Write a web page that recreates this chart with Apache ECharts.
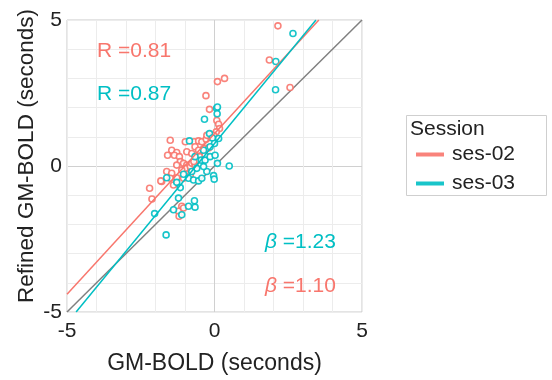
<!DOCTYPE html>
<html>
<head>
<meta charset="utf-8">
<script src="https://cdn.jsdelivr.net/npm/echarts@6/dist/echarts.min.js"></script>
<style>
  html, body { margin: 0; padding: 0; background: #fff; }
  #chart { width: 552px; height: 380px; }
</style>
</head>
<body>
<div id="chart"></div>
<script>
// session names and colours
const sessions = ['ses-02', 'ses-03'];
const sessionColors = ['#F8766D', '#00BFC4'];

// scatter points [GM-BOLD, Refined GM-BOLD] (seconds)
const ses02Points = [
  [2.15, 4.80], [1.86, 3.63], [2.56, 2.69], [0.10, 2.89], [0.34, 3.00], [-0.29, 2.41],
  [-0.17, 1.94], [0.08, 1.56], [0.14, 1.43], [0.17, 1.28], [0.06, 1.17],
  [-1.50, 0.88], [-0.99, 0.83], [-0.69, 0.83], [-0.54, 0.86], [-0.43, 0.83],
  [-0.28, 0.92], [-0.15, 1.00], [-0.03, 1.05], [-1.45, 0.54], [-1.28, 0.46],
  [-1.59, 0.37], [-1.36, 0.37], [-1.19, 0.32], [-0.94, 0.49], [-0.77, 0.43],
  [-0.66, 0.66], [-0.54, 0.54], [-0.37, 0.60], [-0.20, 0.62], [-1.16, 0.15],
  [-1.05, 0.09], [-0.94, 0.03], [-0.88, -0.08], [-0.99, -0.08], [-0.82, -0.02],
  [-0.77, 0.09], [-0.66, 0.03], [-1.11, -0.14], [-1.62, -0.19], [-1.45, -0.25],
  [-1.79, -0.53], [-1.50, -0.42], [-1.28, -0.40], [-1.39, -0.65], [-2.20, -0.76],
  [-2.12, -1.13], [-1.11, -1.38], [-1.22, -1.55], [-1.05, -1.44], [-1.20, -1.72],
  [-0.49, 0.32], [-0.32, 0.37], [-1.05, -0.42], [-0.82, -0.31], [-1.28, 0.03],
  [-1.82, -0.51], [-0.26, 1.05], [-0.60, 0.20], [-0.70, 0.15]
];
const ses03Points = [
  [2.66, 4.54], [2.08, 3.58], [2.07, 2.61], [0.07, 1.98], [0.09, 1.79], [-0.34, 1.60],
  [0.50, 0.00], [-1.64, -2.36], [-2.03, -1.63], [0.10, 2.02],
  [-0.17, 1.11], [-0.07, 0.96], [0.14, 0.94], [0.00, 0.77], [-0.85, 0.86],
  [-0.37, 0.54], [-0.15, 0.66], [-0.45, 0.20], [-0.32, 0.20], [-0.66, 0.32],
  [-0.15, 0.32], [0.02, 0.37], [0.10, 0.09], [-0.03, -0.33], [-0.01, -0.45],
  [-1.62, -0.40], [-1.28, -0.56], [-1.05, -0.28], [-0.88, -0.42], [-0.71, -0.48],
  [-0.54, -0.51], [-0.43, -0.42], [-1.16, -0.74], [-1.22, -1.10], [-1.39, -1.50],
  [-1.11, -1.67], [-0.88, -1.38], [-0.68, -1.19], [-0.66, -1.41], [-0.60, -0.08],
  [-0.26, -0.19], [-0.77, -0.19], [-0.37, -0.02]
];

// fitted lines: slope (beta) and intercept
const fitSlopes = [1.10, 1.23];
const fitIntercepts = [1.11, 0.77];
const corrR = ['0.81', '0.87'];

const axisMin = -5, axisMax = 5;
const tickLabels = ['-5', '0', '5'];

function fitLine(slope, intercept){
  // clip the fitted line to the plotting window
  const xAtMin = (axisMin - intercept) / slope;
  const xAtMax = (axisMax - intercept) / slope;
  const x0 = Math.max(axisMin, Math.min(xAtMin, xAtMax));
  const x1 = Math.min(axisMax, Math.max(xAtMin, xAtMax));
  return [[x0, slope * x0 + intercept], [x1, slope * x1 + intercept]];
}

const font = '"Liberation Sans", Arial, sans-serif';
const splitColors = [];
for (let v = axisMin; v <= axisMax; v++) splitColors.push(v === 0 ? '#d0d0d0' : '#ececec');

function valueAxis(name, gap, margin){
  return {
    type: 'value', min: axisMin, max: axisMax, interval: 1,
    name: name, nameLocation: 'middle', nameGap: gap,
    nameTextStyle: { fontFamily: font, fontSize: 23, color: '#222' },
    axisLine: { show: false }, axisTick: { show: false },
    axisLabel: {
      fontFamily: font, fontSize: 21, color: '#222', margin: margin,
      formatter: v => tickLabels.includes(String(v)) ? String(v) : ''
    },
    splitLine: { show: true, lineStyle: { color: splitColors, width: 1 } }
  };
}

const series = [{
  name: 'identity', type: 'line', data: [[axisMin, axisMin], [axisMax, axisMax]],
  symbol: 'none', lineStyle: { color: '#808080', width: 1.5 }, silent: true, z: 2
}];
sessions.forEach((s, i) => {
  series.push({
    name: s, type: 'scatter', data: i === 0 ? ses02Points : ses03Points,
    symbol: 'circle', symbolSize: 6,
    itemStyle: { color: '#fff', borderColor: sessionColors[i], borderWidth: 1.6, opacity: 0.9 },
    z: 3
  });
});
sessions.forEach((s, i) => {
  series.push({
    name: s, type: 'line', data: fitLine(fitSlopes[i], fitIntercepts[i]),
    symbol: 'none', lineStyle: { color: sessionColors[i], width: 1.5 }, z: 4
  });
});

const chart = echarts.init(document.getElementById('chart'), null, { renderer: 'canvas' });
chart.setOption({
  animation: false,
  grid: { left: 67, right: 190, top: 20, bottom: 66, show: true, borderColor: '#c8c8c8', borderWidth: 1 },
  xAxis: valueAxis('GM-BOLD (seconds)', 40, 9),
  yAxis: valueAxis('', 0, 5),
  legend: {
    orient: 'vertical', left: 411, top: 139, itemGap: 8,
    itemWidth: 28, itemHeight: 4,
    data: sessions.map((s, i) => ({ name: s, icon: 'rect', itemStyle: { color: sessionColors[i], borderWidth: 0 } })),
    textStyle: { fontFamily: font, fontSize: 21, color: '#222', padding: [0, 0, 0, 3] }
  },
  graphic: [
    { type: 'rect', left: 406, top: 115, shape: { width: 140, height: 80 },
      style: { fill: '#fff', stroke: '#cfcfcf', lineWidth: 1 }, z: -1 },
    { type: 'text', left: 410, top: 119, z: 100, style: { text: 'Session', font: '21px ' + font, fill: '#222' } },
    { type: 'text', x: 27, y: 156, rotation: Math.PI / 2, z: 100,
      style: { text: 'Refined GM-BOLD (seconds)', font: '22.5px ' + font, fill: '#222', align: 'center', verticalAlign: 'middle' } },
    { type: 'text', left: 97, top: 41, z: 100, style: { text: 'R =' + corrR[0], font: '21px ' + font, fill: sessionColors[0] } },
    { type: 'text', left: 97, top: 84, z: 100, style: { text: 'R =' + corrR[1], font: '21px ' + font, fill: sessionColors[1] } },
    { type: 'text', left: 265, top: 232, z: 100, style: {
        text: '{b|β} =' + fitSlopes[1].toFixed(2), font: '21px ' + font, fill: sessionColors[1],
        rich: { b: { fontStyle: 'italic', fontSize: 21, fontFamily: font, fill: sessionColors[1] } } } },
    { type: 'text', left: 265, top: 276, z: 100, style: {
        text: '{b|β} =' + fitSlopes[0].toFixed(2), font: '21px ' + font, fill: sessionColors[0],
        rich: { b: { fontStyle: 'italic', fontSize: 21, fontFamily: font, fill: sessionColors[0] } } } }
  ],
  series: series
});
window.addEventListener('resize', () => chart.resize());
</script>
</body>
</html>
